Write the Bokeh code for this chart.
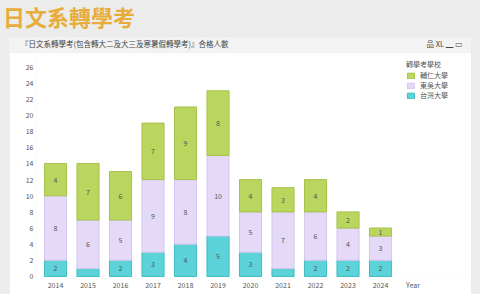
from bokeh.plotting import figure
from bokeh.models import ColumnDataSource, Div, FixedTicker, Range1d, Legend, LegendItem
from bokeh.layouts import column
from bokeh.embed import file_html
from bokeh.resources import INLINE

years = [2014, 2015, 2016, 2017, 2018, 2019, 2020, 2021, 2022, 2023, 2024]
ntu = [2, 1, 2, 3, 4, 5, 3, 1, 2, 2, 2]          # 台灣大學
scu = [8, 6, 5, 9, 8, 10, 5, 7, 6, 4, 3]         # 東吳大學
fju = [4, 7, 6, 7, 9, 8, 4, 3, 4, 2, 1]          # 輔仁大學
series_names = ["台灣大學", "東吳大學", "輔仁大學"]
colors = ["#5cd3d8", "#e4daf7", "#bad65e"]
borders = ["#3fbcc2", "#d4c6ee", "#a5c24a"]
y_ticks = list(range(0, 27, 2))

FONT = "Noto Sans CJK TC"

b1 = ntu
b2 = [a + b for a, b in zip(ntu, scu)]
b3 = [a + b for a, b in zip(b2, fju)]
src = ColumnDataSource(dict(
    x=years,
    ntu=ntu, scu=scu, fju=fju,
    b0=[0] * len(years), b1=b1, b2=b2, b3=b3,
    m1=[v / 2 for v in b1],
    m2=[(a + b) / 2 for a, b in zip(b1, b2)],
    m3=[(a + b) / 2 for a, b in zip(b2, b3)],
    t1=[str(v) if v > 1 else "" for v in ntu],
    t2=[str(v) for v in scu],
    t3=[str(v) for v in fju],
))

p = figure(width=462, height=242, output_backend="svg", toolbar_location=None,
           x_range=Range1d(2013.415, 2026.615), y_range=Range1d(-0.25, 27.5),
           min_border_left=27, min_border_right=6, min_border_top=2, min_border_bottom=16,
           margin=(0, 0, 0, 9))
p.background_fill_color = "white"
p.border_fill_color = "white"
p.outline_line_color = None
p.xgrid.grid_line_color = None
p.ygrid.grid_line_color = None

w = 0.68
r1 = p.vbar(x="x", bottom="b0", top="b1", width=w, source=src,
            fill_color=colors[0], line_color=borders[0], line_width=1)
r2 = p.vbar(x="x", bottom="b1", top="b2", width=w, source=src,
            fill_color=colors[1], line_color=borders[1], line_width=1)
r3 = p.vbar(x="x", bottom="b2", top="b3", width=w, source=src,
            fill_color=colors[2], line_color=borders[2], line_width=1)

for ycol, tcol in (("m1", "t1"), ("m2", "t2"), ("m3", "t3")):
    p.text(x="x", y=ycol, text=tcol, source=src, text_align="center",
           text_baseline="middle", text_font_size="7px", text_color="#555555",
           text_font={"value": FONT})

p.xaxis.ticker = FixedTicker(ticks=years + [2025])
p.xaxis.major_label_overrides = {2025: "Year"}
p.yaxis.ticker = FixedTicker(ticks=y_ticks)
for ax in (p.xaxis[0], p.yaxis[0]):
    ax.axis_line_color = None
    ax.major_tick_line_color = None
    ax.minor_tick_line_color = None
    ax.major_tick_out = 0
    ax.major_tick_in = 0
    ax.major_label_text_font = FONT
    ax.major_label_text_font_size = "7px"
    ax.major_label_text_color = "#555555"
p.xaxis.major_label_standoff = 1
p.yaxis.major_label_standoff = 3

legend = Legend(items=[
    LegendItem(label=series_names[2], renderers=[r3]),
    LegendItem(label=series_names[1], renderers=[r2]),
    LegendItem(label=series_names[0], renderers=[r1]),
], location=(370, 178))
legend.title = "轉學考學校"
legend.title_text_font = FONT
legend.title_text_font_size = "7px"
legend.title_text_color = "#555555"
legend.title_text_font_style = "normal"
legend.title_standoff = 1
legend.title_text_line_height = 1.0
legend.label_text_font = FONT
legend.label_text_font_size = "7px"
legend.label_text_line_height = 1.0
legend.label_text_color = "#555555"
legend.label_height = 7
legend.label_standoff = 5
legend.glyph_width = 9
legend.glyph_height = 7
legend.spacing = -2
legend.padding = 2
legend.margin = 0
legend.border_line_color = None
legend.background_fill_alpha = 0
p.add_layout(legend)

title_div = Div(text="日文系轉學考", width=480, height=37, margin=(0, 0, 0, 0),
                styles={"font-family": FONT, "font-size": "22px", "font-weight": "bold",
                        "color": "#e8ac3a", "padding-left": "3px", "padding-top": "4px",
                        "box-sizing": "border-box", "line-height": "24px"})

header_html = (
    '<div style="display:flex;justify-content:space-between;align-items:center;'
    'width:462px;height:15px;padding:0 8px 0 12px;box-sizing:border-box;">'
    '<span>『日文系轉學考(包含轉大二及大三及寒暑假轉學考)』合格人數</span>'
    '<span>品 XL ▁ ▭</span></div>'
)
header_div = Div(text=header_html, width=462, height=15, margin=(0, 0, 0, 9),
                 styles={"font-family": FONT, "font-size": "7.5px", "color": "#444444",
                         "background-color": "#f3f3f3"})

layout = column(title_div, header_div, p, width=480, height=294, spacing=0,
                styles={"background-color": "#ececec"})

open("out.html", "w").write(file_html(layout, INLINE))
